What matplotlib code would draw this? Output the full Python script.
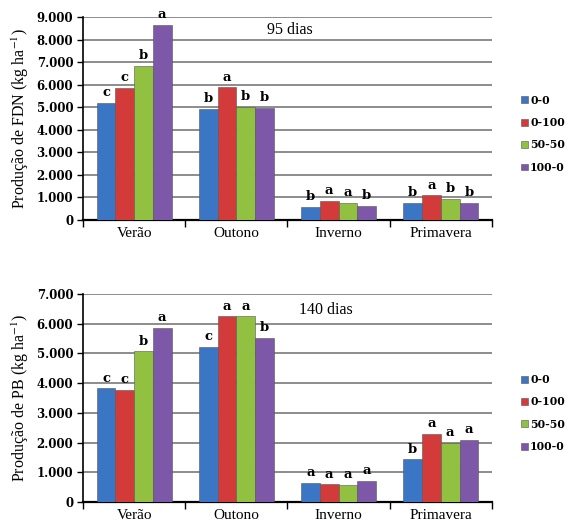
import numpy as np
import matplotlib.pyplot as plt
from matplotlib.ticker import FuncFormatter, FixedLocator

plt.rcParams['mathtext.fontset'] = 'stix'

estacoes = ['Verão', 'Outono', 'Inverno', 'Primavera']
tratamentos = ['0-0', '0-100', '50-50', '100-0']
cores = ['#3b76c4', '#d33b3b', '#92c040', '#7d58a8']

# producao de FDN (kg/ha), 95 dias
fdn = [[5200, 4930, 580, 750],
       [5850, 5880, 840, 1100],
       [6850, 5020, 750, 930],
       [8650, 4970, 640, 750]]
letras_fdn = [['c', 'b', 'b', 'b'],
              ['c', 'a', 'a', 'a'],
              ['b', 'b', 'a', 'b'],
              ['a', 'b', 'b', 'b']]

# producao de PB (kg/ha), 140 dias
pb = [[3820, 5230, 640, 1430],
      [3780, 6250, 590, 2300],
      [5070, 6250, 570, 2000],
      [5870, 5530, 700, 2100]]
letras_pb = [['c', 'c', 'a', 'b'],
             ['c', 'a', 'a', 'a'],
             ['b', 'a', 'a', 'a'],
             ['a', 'b', 'a', 'a']]

fmt_milhar = FuncFormatter(lambda v, p: '{:,.0f}'.format(v).replace(',', '.'))


def grafico(ax, dados, letras, ymax, ylabel, titulo, tx, ty, ly):
    x = np.arange(len(estacoes))
    w = 0.183
    for i, serie in enumerate(dados):
        pos = x + (i - 1.5) * w
        ax.bar(pos, serie, w, color=cores[i], edgecolor='#555555',
               linewidth=0.4, label=tratamentos[i], zorder=3)
        for xp, v, l in zip(pos, serie, letras[i]):
            ax.text(xp, v + ymax * 0.018, l, ha='center', va='bottom',
                    fontsize=9.5, fontweight='bold', family='DejaVu Serif')
    ax.set_xlim(-0.5, 3.5)
    ax.set_ylim(0, ymax)
    ax.yaxis.set_major_locator(FixedLocator(np.arange(0, ymax + 1, 1000)))
    ax.yaxis.set_major_formatter(fmt_milhar)
    ax.yaxis.grid(True, color='#8c8c8c', linewidth=1.4, zorder=0)
    ax.set_xticks(x)
    ax.set_xticklabels(estacoes, family='Liberation Serif', fontsize=11)
    ax.set_xticks(np.arange(-0.5, 4, 1), minor=True)
    ax.tick_params(axis='x', which='major', length=0, pad=5)
    ax.tick_params(axis='x', which='minor', length=5, width=1, direction='out')
    ax.tick_params(axis='y', length=4, width=1, pad=3)
    for t in ax.get_yticklabels():
        t.set_family('DejaVu Serif')
        t.set_fontweight('bold')
        t.set_fontsize(8.5)
    for s in ['top', 'right']:
        ax.spines[s].set_visible(False)
    ax.spines['left'].set_linewidth(1.2)
    ax.spines['bottom'].set_linewidth(1.6)
    ax.set_ylabel(ylabel, family='Liberation Serif', fontsize=11.5, labelpad=4)
    ax.text(tx, ty, titulo, transform=ax.transAxes, ha='center', va='center',
            family='Liberation Serif', fontsize=11.5)
    leg = ax.legend(loc='center left', bbox_to_anchor=(1.06, ly), frameon=False,
                    handlelength=0.7, handleheight=0.6, handletextpad=0.15,
                    labelspacing=1.05, borderaxespad=0,
                    prop={'family': 'DejaVu Serif', 'weight': 'bold', 'size': 7.8})
    return leg


fig = plt.figure(figsize=(5.75, 5.27), dpi=100)
ax1 = fig.add_axes([0.1443, 0.5825, 0.7113, 0.3852])
ax2 = fig.add_axes([0.1443, 0.0475, 0.7113, 0.3946])

grafico(ax1, fdn, letras_fdn, 9000, 'Produção de FDN (kg ha$^{-1}$)', '95 dias', 0.505, 0.935, 0.425)
grafico(ax2, pb, letras_pb, 7000, 'Produção de PB (kg ha$^{-1}$)', '140 dias', 0.595, 0.925, 0.428)

fig.savefig('out.png', dpi=100)
